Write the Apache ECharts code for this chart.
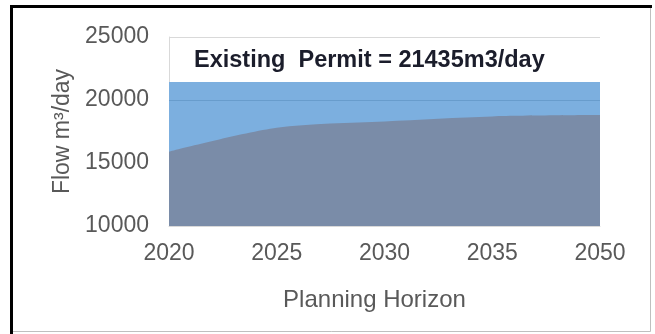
<!DOCTYPE html>
<html>
<head>
<meta charset="utf-8">
<script src="https://cdn.jsdelivr.net/npm/echarts@6/dist/echarts.min.js"></script>
<style>
html,body{margin:0;padding:0;background:#fff;}
#chart{width:655px;height:334px;}
</style>
</head>
<body>
<div id="chart"></div>
<script>
const categories = ['2020', '2025', '2030', '2035', '2050'];
const permitValues = [21435, 21435, 21435, 21435, 21435];
const demandValues = [15900, 17800, 18300, 18700, 18800];
const yTicks = [10000, 15000, 20000, 25000];
const permitLabel = 'Existing  Permit = ' + permitValues[0] + 'm3/day';

const chart = echarts.init(document.getElementById('chart'), null, {renderer: 'canvas'});
const font = '"Liberation Sans", Arial, sans-serif';
chart.setOption({
  animation: false,
  backgroundColor: '#ffffff',
  title: {
    text: permitLabel,
    left: 194,
    top: 49,
    padding: 0,
    textStyle: {fontFamily: font, fontSize: 23.5, fontWeight: 'bold', color: '#1b1d2b'}
  },
  grid: {left: 169, right: 55, top: 37, bottom: 108},
  xAxis: {
    type: 'category',
    data: categories,
    boundaryGap: false,
    name: 'Planning Horizon',
    nameLocation: 'middle',
    nameGap: 62,
    nameTextStyle: {fontFamily: font, fontSize: 24, color: '#595959', padding: [0, 20, 0, 0]},
    axisLine: {show: true, lineStyle: {color: '#d9d9d9', width: 1}},
    axisTick: {show: false},
    axisLabel: {fontFamily: font, fontSize: 23, color: '#595959', margin: 16},
    splitLine: {show: false}
  },
  yAxis: {
    type: 'value',
    min: yTicks[0],
    max: yTicks[yTicks.length - 1],
    interval: yTicks[1] - yTicks[0],
    name: 'Flow m³/day',
    nameLocation: 'middle',
    nameGap: 94,
    nameTextStyle: {fontFamily: font, fontSize: 23, color: '#595959'},
    axisLine: {show: true, lineStyle: {color: '#d9d9d9', width: 1}},
    axisTick: {show: false},
    axisLabel: {fontFamily: font, fontSize: 23, color: '#595959', margin: 20, formatter: function (v) { return String(v); }},
    splitLine: {show: true, lineStyle: {color: '#d9d9d9', width: 1}}
  },
  series: [
    {
      name: 'Existing Permit',
      type: 'line',
      data: permitValues,
      symbol: 'none',
      lineStyle: {width: 0},
      areaStyle: {color: '#7cafdf', opacity: 1},
      markLine: {
        silent: true,
        symbol: 'none',
        label: {show: false},
        lineStyle: {color: 'rgba(70,120,170,0.35)', width: 1, type: 'solid'},
        data: [{yAxis: yTicks[2]}]
      },
      z: 2
    },
    {
      name: 'Demand',
      type: 'line',
      data: demandValues,
      smooth: 0.3,
      symbol: 'none',
      lineStyle: {width: 0},
      areaStyle: {color: '#7a8ca8', opacity: 1},
      z: 3
    }
  ],
  graphic: [
    {type: 'polyline', shape: {points: [[11.5, 334], [11.5, 6.5], [652, 6.5]]}, style: {stroke: '#000', lineWidth: 3, fill: null}, z: 100},
    {type: 'polyline', shape: {points: [[650.5, 8], [650.5, 331.5], [13, 331.5]]}, style: {stroke: '#bfbfbf', lineWidth: 1, fill: null}, z: 100}
  ]
});
</script>
</body>
</html>
